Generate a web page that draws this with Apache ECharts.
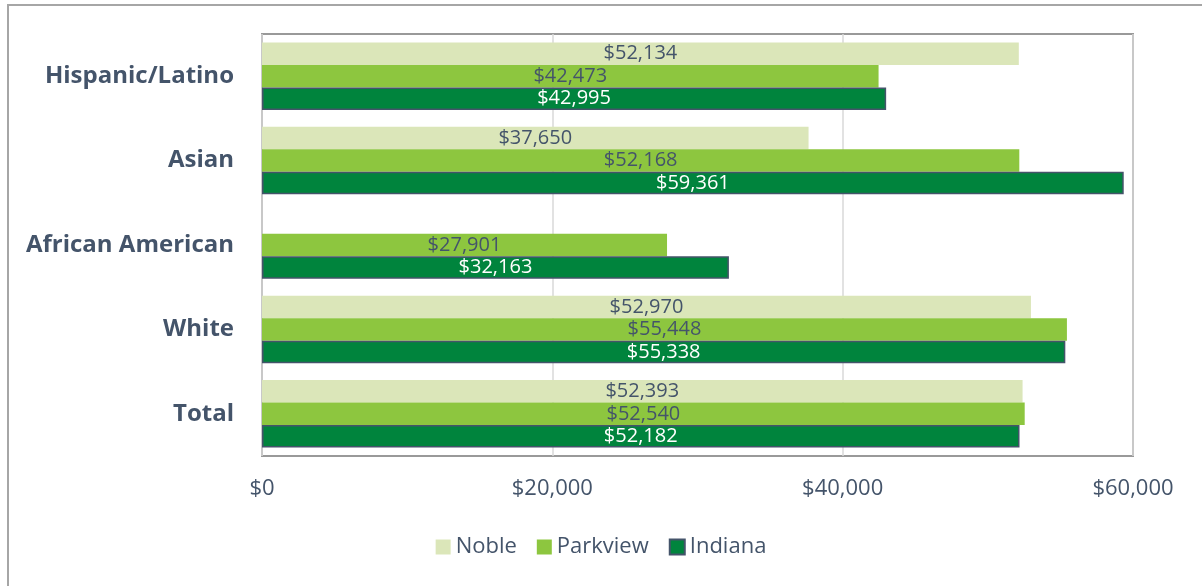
<!DOCTYPE html>
<html>
<head>
<meta charset="utf-8">
<script src="https://cdn.jsdelivr.net/npm/echarts@6/dist/echarts.min.js"></script>
<style>
  html, body { margin: 0; padding: 0; background: #fff; }
  #chart { width: 1202px; height: 586px; }
</style>
</head>
<body>
<div id="chart"></div>
<script>
// categories from top to bottom
var categories = ['Hispanic/Latino', 'Asian', 'African American', 'White', 'Total']
var noble = [52134, 37650, null, 52970, 52393]
var parkview = [42473, 52168, 27901, 55448, 52540]
var indiana = [42995, 59361, 32163, 55338, 52182]
var xTicks = [0, 20000, 40000, 60000]

var textColor = '#44546A'
var font = '"Open Sans", "Noto Sans", sans-serif'

function money(v) {
    return '$' + Math.round(v).toString().replace(/\B(?=(\d{3})+(?!\d))/g, ',')
}

var myChart = echarts.init(document.getElementById('chart'))

function barSeries(name, data, color, labelColor, border) {
    return {
        name: name,
        type: 'bar',
        data: data,
        barGap: '0%',
        barCategoryGap: '20%',
        itemStyle: {
            color: color,
            borderColor: border ? textColor : color,
            borderWidth: border ? 1.5 : 0
        },
        label: {
            show: true,
            position: 'inside',
            color: labelColor,
            fontFamily: font,
            fontSize: 20,
            formatter: function (p) { return money(p.value) }
        }
    }
}

var option = {
    animation: false,
    textStyle: { fontFamily: font },
    graphic: [{
        type: 'rect',
        shape: { x: 8, y: 5, width: 1210, height: 600 },
        style: { fill: 'none', stroke: '#A6A6A6', lineWidth: 2 },
        silent: true
    }],
    grid: {
        left: 262,
        right: 69,
        top: 34,
        bottom: 130,
        show: true,
        borderColor: '#999999',
        borderWidth: 2,
        backgroundColor: 'transparent'
    },
    legend: {
        bottom: 23,
        left: 'center',
        icon: 'rect',
        itemWidth: 15,
        itemHeight: 15,
        itemGap: 20,
        data: ['Noble', 'Parkview', 'Indiana'],
        textStyle: { color: textColor, fontSize: 22, fontFamily: font, padding: [0, 0, 0, 0] }
    },
    xAxis: {
        type: 'value',
        min: 0,
        max: xTicks[xTicks.length - 1],
        interval: xTicks[1] - xTicks[0],
        axisLine: { show: false },
        axisTick: { show: false },
        splitLine: { show: true, lineStyle: { color: '#D9D9D9', width: 1.5 } },
        axisLabel: {
            color: textColor,
            fontSize: 22,
            fontFamily: font,
            margin: 22,
            formatter: function (v) { return money(v) }
        }
    },
    yAxis: {
        type: 'category',
        inverse: true,
        data: categories,
        axisLine: { show: false },
        axisTick: { show: false },
        axisLabel: {
            color: textColor,
            fontSize: 24,
            fontWeight: 'bold',
            fontFamily: font,
            margin: 28
        }
    },
    series: [
        barSeries('Noble', noble, '#DBE6B9', textColor, false),
        barSeries('Parkview', parkview, '#8DC63F', textColor, false),
        barSeries('Indiana', indiana, '#00843D', '#FFFFFF', true)
    ]
}

myChart.setOption(option)
</script>
</body>
</html>
